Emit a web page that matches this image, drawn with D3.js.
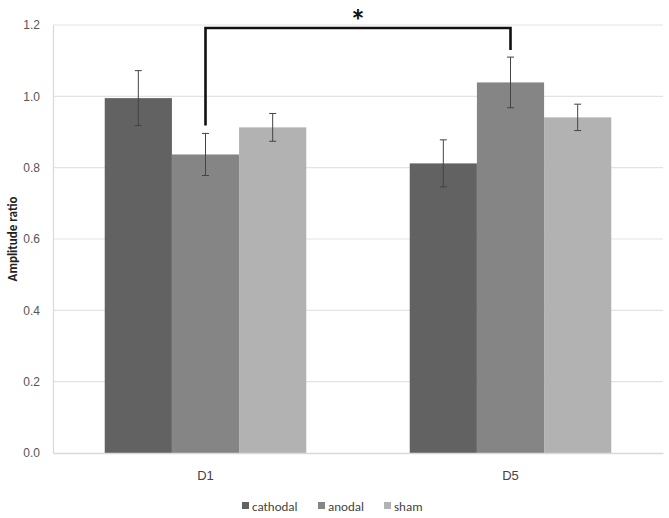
<!DOCTYPE html>
<html>
<head>
<meta charset="utf-8">
<script src="https://cdn.jsdelivr.net/npm/d3@7"></script>
<style>
  body { margin: 0; background: #fff; }
  svg { font-family: Calibri, "Open Sans", "Liberation Sans", sans-serif; }
</style>
</head>
<body>
<svg id="chart" width="669" height="518"></svg>
<script>
// data
var days = ["D1", "D5"];
var groups = ["cathodal", "anodal", "sham"];
var cathodal = [0.995, 0.812];
var anodal = [0.837, 1.039];
var sham = [0.913, 0.941];
var cathodalErr = [0.077, 0.066];
var anodalErr = [0.059, 0.071];
var shamErr = [0.039, 0.037];
var yTicks = [0, 0.2, 0.4, 0.6, 0.8, 1.0, 1.2];

var colors = {cathodal: "#626262", anodal: "#858585", sham: "#b2b2b2"};

var svg = d3.select("#chart");
var margin = {left: 53, right: 6, top: 25, bottom: 65};
var width = 669 - margin.left - margin.right;
var height = 518 - margin.top - margin.bottom;

var g = svg.append("g").attr("transform", "translate(" + margin.left + "," + margin.top + ")");

var x0 = d3.scaleBand().domain(days).range([0, width]);
var x1 = d3.scaleBand().domain(groups).range([0, x0.bandwidth()]).paddingInner(0).paddingOuter(0.77);
var y = d3.scaleLinear().domain([0, 1.2]).range([height, 0]);

// gridlines
g.selectAll(".grid").data(yTicks.slice(1)).enter().append("line")
  .attr("x1", 0).attr("x2", width)
  .attr("y1", function(d){ return y(d); }).attr("y2", function(d){ return y(d); })
  .attr("stroke", "#e3e3e3").attr("stroke-width", 1.2);

// y axis
var yAxis = g.append("g").call(d3.axisLeft(y).tickValues(yTicks).tickFormat(d3.format(".1f")).tickSize(0).tickPadding(13));
yAxis.select(".domain").attr("stroke", "#d9d9d9").attr("stroke-width", 1.2);
yAxis.selectAll("text").attr("fill", "#555").style("font-size", "12px");

// bars
var rows = days.map(function(day, i){
  return groups.map(function(grp){
    var vals = {cathodal: cathodal, anodal: anodal, sham: sham}[grp];
    var errs = {cathodal: cathodalErr, anodal: anodalErr, sham: shamErr}[grp];
    return {day: day, grp: grp, v: vals[i], e: errs[i]};
  });
});

var cat = g.selectAll(".day").data(rows).enter().append("g")
  .attr("transform", function(d, i){ return "translate(" + x0(days[i]) + ",0)"; });

cat.selectAll("rect").data(function(d){ return d; }).enter().append("rect")
  .attr("x", function(d){ return x1(d.grp); })
  .attr("width", x1.bandwidth())
  .attr("y", function(d){ return y(d.v); })
  .attr("height", function(d){ return height - y(d.v); })
  .attr("fill", function(d){ return colors[d.grp]; });

// error bars
var eb = cat.selectAll(".err").data(function(d){ return d; }).enter().append("g")
  .attr("stroke", "#444").attr("stroke-width", 1);
eb.append("line")
  .attr("x1", function(d){ return x1(d.grp) + x1.bandwidth() / 2; })
  .attr("x2", function(d){ return x1(d.grp) + x1.bandwidth() / 2; })
  .attr("y1", function(d){ return y(d.v + d.e); })
  .attr("y2", function(d){ return y(d.v - d.e); });
[1, -1].forEach(function(s){
  eb.append("line")
    .attr("x1", function(d){ return x1(d.grp) + x1.bandwidth() / 2 - 3.5; })
    .attr("x2", function(d){ return x1(d.grp) + x1.bandwidth() / 2 + 3.5; })
    .attr("y1", function(d){ return y(d.v + s * d.e); })
    .attr("y2", function(d){ return y(d.v + s * d.e); });
});

// x axis
var xAxis = g.append("g").attr("transform", "translate(0," + height + ")")
  .call(d3.axisBottom(x0).tickSize(0).tickPadding(18));
xAxis.select(".domain").attr("stroke", "#d9d9d9").attr("stroke-width", 1.5);
xAxis.selectAll("text").attr("fill", "#444").style("font-size", "13px");

// y title
svg.append("text")
  .attr("transform", "translate(17," + (margin.top + height / 2) + ") rotate(-90)")
  .attr("text-anchor", "middle")
  .attr("fill", "#222")
  .style("font-size", "13px").style("font-weight", "bold")
  .text("Amplitude ratio");

// significance bracket between D1 anodal and D5 anodal
var xa = x0("D1") + x1("anodal") + x1.bandwidth() / 2;
var xb = x0("D5") + x1("anodal") + x1.bandwidth() / 2;
var yTop = 3;
g.append("path")
  .attr("d", "M" + xa + "," + (y(anodal[0] + anodalErr[0]) - 8) + "V" + yTop + "H" + xb + "V" + (y(anodal[1] + anodalErr[1]) - 7))
  .attr("fill", "none").attr("stroke", "#111").attr("stroke-width", 2.6);
g.append("text")
  .attr("x", (xa + xb) / 2).attr("y", yTop + 4)
  .attr("text-anchor", "middle")
  .style("font-size", "32px").style("font-weight", "bold").attr("fill", "#111")
  .text("*");

// legend
var legX = [242, 318, 384];
var leg = svg.append("g").selectAll("g").data(groups).enter().append("g")
  .attr("transform", function(d, i){ return "translate(" + legX[i] + ",502)"; });
leg.append("rect").attr("width", 7).attr("height", 7).attr("y", 0)
  .attr("fill", function(d){ return colors[d]; });
leg.append("text").attr("x", 10).attr("y", 9)
  .attr("fill", "#444").style("font-size", "13px")
  .text(function(d){ return d; });
</script>
</body>
</html>
